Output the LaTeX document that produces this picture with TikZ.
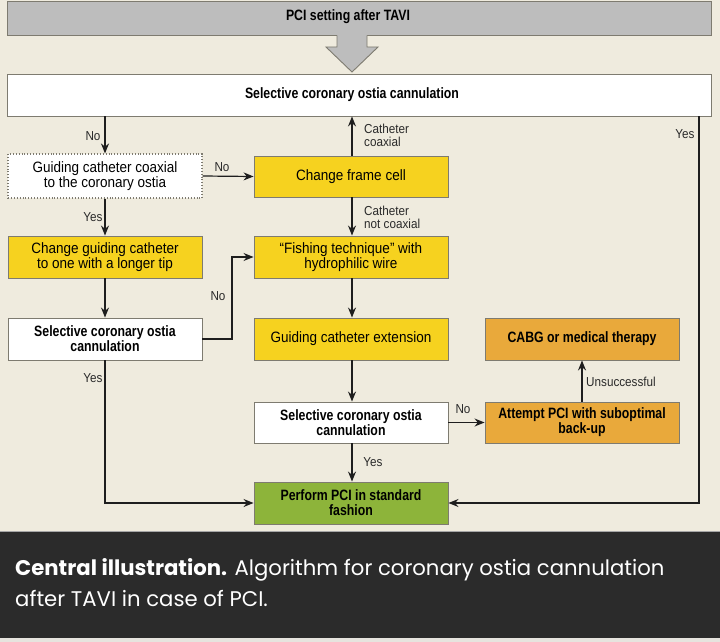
\documentclass[tikz,border=0pt]{standalone}
\usepackage{fontspec}
\usetikzlibrary{arrows.meta}
\newfontfamily\cond[FakeStretch=0.9]{Liberation Sans}
\newfontfamily\condb[FakeStretch=0.82]{Liberation Sans Bold}
\newfontfamily\capfont{Poppins}
\definecolor{bgc}{HTML}{EFEBDE}
\definecolor{darkc}{HTML}{2B2B2B}
\definecolor{stripc}{HTML}{E6E4DE}
\definecolor{yel}{HTML}{F6D21F}
\definecolor{ora}{HTML}{E9A93B}
\definecolor{grn}{HTML}{8DB43A}
\definecolor{gryc}{HTML}{BDBDBD}
\definecolor{boxline}{HTML}{7E7B70}
\definecolor{linec}{HTML}{1E1E1E}
\definecolor{labc}{HTML}{2A2A2A}
\tikzset{
  box/.style={draw=boxline, line width=0.9pt, minimum width=194pt, minimum height=42pt,
    inner sep=0pt, align=center, text=black, font=\cond\fontsize{15}{15}\selectfont},
  boldbox/.style={box, font=\condb\fontsize{15}{15}\selectfont},
  arr/.style={draw=linec, line width=1.2pt, -{Stealth[length=10pt,width=8pt]}},
  lab/.style={font=\cond\fontsize{13}{13}\selectfont, inner sep=0pt, text=labc, align=left},
}
\begin{document}
\begin{tikzpicture}[x=1pt,y=-1pt]
\useasboundingbox (0,0) rectangle (720,642);
\fill[bgc] (0,0) rectangle (720,532);
\fill[darkc] (0,532) rectangle (720,638);
\fill[stripc] (0,638) rectangle (720,642);
\draw[gray!70, line width=0.8pt] (0,531.5) -- (720,531.5);

% top gray box and block arrow
\node[draw=boxline, fill=gryc, line width=0.9pt, minimum width=704pt, minimum height=34pt, inner sep=0pt] (top) at (359,18) {};
\node[font=\condb\fontsize{15}{15}\selectfont, inner sep=0pt] (topt) at (348,17) {PCI setting after TAVI};
\fill[gryc] (337,34) -- (337,47) -- (326,47) -- (352,72) -- (378,47) -- (367,47) -- (367,34) -- cycle;
\draw[boxline, line width=0.9pt] (337,35.5) -- (337,47) -- (326,47) -- (352,72) -- (378,47) -- (367,47) -- (367,35.5);

% first cannulation box
\node[box, fill=white, minimum width=704pt] (sel0) at (359,95) {};
\node[font=\condb\fontsize{15}{15}\selectfont, inner sep=0pt] (sel0t) at (352,95) {Selective coronary ostia cannulation};

% boxes
\node[box, fill=white, draw=boxline, dotted, line width=1.1pt, minimum height=44pt] (guide) at (105,176) {Guiding catheter coaxial\\to the coronary ostia};
\node[box, fill=yel, minimum height=41pt] (frame) at (351,176.5) {Change frame cell};
\node[box, fill=yel] (longtip) at (105,257) {Change guiding catheter\\to one with a longer tip};
\node[box, fill=yel] (fish) at (351,257) {“Fishing technique” with\\hydrophilic wire};
\node[boldbox, fill=white] (sel1) at (105,339) {Selective coronary ostia\\cannulation};
\node[box, fill=yel] (ext) at (351,339) {Guiding catheter extension};
\node[boldbox, fill=white, minimum height=41pt] (sel2) at (351,422.5) {Selective coronary ostia\\cannulation};
\node[boldbox, fill=grn] (perf) at (351,503) {Perform PCI in standard\\fashion};
\node[boldbox, fill=ora, minimum height=41pt] (att) at (582,422.5) {Attempt PCI with suboptimal\\back-up};
\node[boldbox, fill=ora] (cabg) at (582,339) {CABG or medical therapy};

\coordinate (ry) at (699,0);
\coordinate (nx) at (232,0);

% connectors
\draw[arr] (sel0.south -| guide.north) -- (guide.north);
\node[lab] (l1) at (93,136) {No};
\draw[arr] (guide.east) -- (frame.west);
\node[lab] (l2) at (222,167) {No};
\draw[arr] (frame.north -| sel0t) -- (sel0.south -| sel0t);
\node[lab, anchor=west] (l3) at (364,135.5) {Catheter\\coaxial};
\draw[arr] (frame.south -| sel0t) -- (fish.north -| sel0t);
\node[lab, anchor=west] (l4) at (364,217) {Catheter\\not coaxial};
\draw[arr] (guide.south) -- (longtip.north);
\node[lab] (l5) at (93,217) {Yes};
\draw[arr] (longtip.south) -- (sel1.north);
\draw[arr] (sel1.east) -| (nx |- fish.west) -- (fish.west);
\node[lab] (l6) at (218,296) {No};
\draw[arr] (sel1.south) |- (perf.west);
\node[lab] (l7) at (93,378) {Yes};
\draw[arr] (fish.south -| sel0t) -- (ext.north -| sel0t);
\draw[arr] (ext.south -| sel0t) -- (sel2.north -| sel0t);
\draw[arr] (sel2.south -| sel0t) -- (perf.north -| sel0t);
\node[lab] (l8) at (373,462) {Yes};
\draw[arr] (sel2.east) -- (att.west);
\node[lab] (l9) at (463,409) {No};
\draw[arr] (att.north) -- (cabg.south);
\node[lab, anchor=west] (l10) at (586,382) {Unsuccessful};
\draw[arr] (sel0.south -| ry) |- (perf.east);
\node[lab] (l11) at (685,134) {Yes};

% caption
\node[anchor=base west, inner sep=0pt, text=white, font=\capfont\fontsize{21.2}{21.2}\selectfont] (cap1) at (15,575) {\textbf{Central illustration.} Algorithm for coronary ostia cannulation};
\node[anchor=base west, inner sep=0pt, text=white, font=\capfont\fontsize{21.2}{21.2}\selectfont] (cap2) at (15,606) {after TAVI in case of PCI.};
\end{tikzpicture}
\end{document}
